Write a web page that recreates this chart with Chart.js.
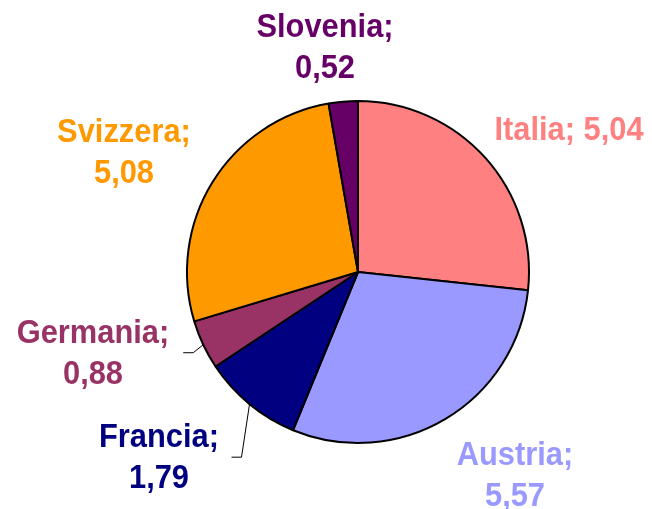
<!DOCTYPE html>
<html><head><meta charset="utf-8">
<script src="https://cdn.jsdelivr.net/npm/chart.js@4/dist/chart.umd.min.js"></script>
<style>html,body{margin:0;padding:0;background:#fff}#wrap{width:652px;height:509px}</style>
</head><body><div id="wrap"><canvas id="c" width="652" height="509"></canvas></div>
<script>
const categories = ['Italia', 'Austria', 'Francia', 'Germania', 'Svizzera', 'Slovenia'];
const values = [5.04, 5.57, 1.79, 0.88, 5.08, 0.52];
const colors = ['#FF8080', '#9999FF', '#000080', '#993366', '#FF9900', '#660066'];
const singleLineLabels = ['Italia'];

// label layout: offset of first baseline (text centre) from pie centre
const labelOffsets = [[211, -132], [157, 193], [-199, 175], [-265, 71], [-234, -130], [-33, -235]];
const lineGap = 41;
// leader lines: from arc edge at mid-angle, to a bend point, then horizontal tail
const leaders = { 2: { bend: [-8, 53], tail: -10 }, 3: { bend: [-10, 8], tail: -10 } };

const fmt = v => v.toFixed(2).replace('.', ',');
const labelText = categories.map((c, i) =>
  singleLineLabels.includes(c) ? [c + '; ' + fmt(values[i])] : [c + ';', fmt(values[i])]);

const labelPlugin = {
  id: 'pieLabels',
  afterDraw(chart) {
    const ctx = chart.ctx;
    const arcs = chart.getDatasetMeta(0).data;
    ctx.save();
    // leader lines
    ctx.strokeStyle = '#000';
    ctx.lineWidth = 1;
    Object.keys(leaders).forEach(k => {
      const a = arcs[k];
      const p = a.getProps(['x', 'y', 'startAngle', 'endAngle', 'outerRadius'], true);
      const mid = (p.startAngle + p.endAngle) / 2;
      const ex = p.x + Math.cos(mid) * p.outerRadius;
      const ey = p.y + Math.sin(mid) * p.outerRadius;
      const L = leaders[k];
      const bx = ex + L.bend[0], by = ey + L.bend[1];
      ctx.beginPath();
      ctx.moveTo(ex, ey);
      ctx.lineTo(bx, by);
      ctx.lineTo(bx + L.tail, by);
      ctx.stroke();
    });
    // texts
    ctx.font = 'bold 33px "Liberation Sans", Arial, sans-serif';
    ctx.textAlign = 'center';
    ctx.textBaseline = 'alphabetic';
    arcs.forEach((a, i) => {
      const p = a.getProps(['x', 'y'], true);
      ctx.fillStyle = colors[i];
      labelText[i].forEach((t, j) => {
        ctx.save();
        ctx.translate(p.x + labelOffsets[i][0], p.y + labelOffsets[i][1] + j * lineGap);
        ctx.scale(0.935, 1);
        ctx.fillText(t, 0, 0);
        ctx.restore();
      });
    });
    ctx.restore();
  }
};

new Chart(document.getElementById('c'), {
  type: 'pie',
  data: {
    labels: categories,
    datasets: [{
      data: values,
      backgroundColor: colors,
      borderColor: '#000',
      borderWidth: 2
    }]
  },
  options: {
    responsive: false,
    animation: false,
    layout: { padding: { left: 186, right: 122, top: 100, bottom: 65 } },
    plugins: { legend: { display: false }, tooltip: { enabled: false } }
  },
  plugins: [labelPlugin]
});
</script></body></html>
